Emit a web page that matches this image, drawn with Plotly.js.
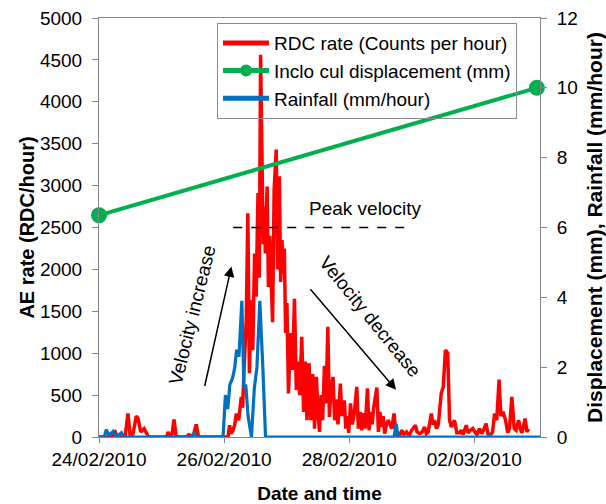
<!DOCTYPE html>
<html>
<head>
<meta charset="utf-8">
<script src="https://cdn.plot.ly/plotly-3.0.1.min.js"></script>
<style>html,body{margin:0;padding:0;background:#fff;}#chart{width:606px;height:504px;}</style>
</head>
<body>
<div id="chart"></div>
<script>
// Hours since 24/02/2010 00:00 and values
const rdcHours = [0,5,6,7,10,11.1,12,13,14.3,15,16,17.3,18,19,26,26.5,27.2,28,28.8,29.6,34,34.4,35,36.3,37.3,38.2,48,49.5,50.1,50.8,51.4,52.1,52.7,53.6,54.6,55.1,55.6,56.5,57.1,57.7,58.4,59.0,59.7,60.3,61.0,61.5,62.0,62.5,63.0,63.4,63.8,64.5,65.0,65.5,66.1,66.6,67.2,68.0,68.5,69.2,69.7,70.2,70.7,71.1,71.6,72.1,72.7,73.5,74.2,75.0,75.7,76.3,77.0,77.8,78.5,79.2,79.8,80.6,81.3,82.0,82.7,83.4,84.0,84.6,85.2,85.8,86.5,87.1,87.8,88.4,89.0,89.8,90.4,91.1,91.7,92.6,93.2,94.1,94.7,95.2,95.8,96.5,97.2,98.0,98.9,99.5,100.2,100.8,101.5,102.1,103.0,103.6,104.2,104.8,105.4,106.6,107.2,107.8,108.4,109.0,109.6,110.3,111.0,111.7,112.3,113.2,113.9,114.6,115.5,116.2,117,118,119,120,121.4,122,123,124,124.9,125.6,126.3,127.5,128.1,128.7,129.5,130.2,131.3,132.1,132.9,133.8,134.5,135.2,136.4,137.3,138.3,139,139.7,140.9,141.6,142.5,143.4,144.2,145,146,146.8,147.5,148.5,149.2,150,151,151.8,152.6,153.5,154.2,155.0,156.0,156.8,157.5,158.4,159.3,160.0,161.0,161.6,162.3,163.5,164.2,164.8];
const rdcRate = [0,0,80,0,0,280,0,30,250,220,60,100,60,0,0,60,0,30,210,0,0,40,0,30,150,0,0,0,140,40,80,150,280,200,478,350,760,1395,2670,760,1633,1036,2190,1673,2910,1900,4560,3230,2300,2750,2190,2990,1790,2400,1700,1370,2950,3430,2000,3110,1850,2350,1950,2250,1240,1600,520,1240,800,1650,560,900,500,1195,300,900,200,880,200,750,100,717,300,60,500,200,850,400,1314,240,550,717,200,450,150,638,250,438,100,250,50,400,150,300,598,100,300,80,283,100,580,80,300,150,350,590,60,300,120,250,40,150,200,140,100,280,60,0,30,80,30,60,20,80,140,60,40,60,120,40,60,280,150,200,100,150,518,600,1036,1000,200,120,200,50,50,80,30,140,50,80,100,60,30,100,40,80,160,40,20,60,280,200,686,250,300,200,50,100,478,100,80,200,100,50,220,60,100];

const incloHours = [0, 168];
const incloDisp = [6.35, 10.0];

const rainHours = [0,2,2.8,3.8,5.4,6.5,7.5,8.6,9.5,35.5,36.5,37.5,47.6,48.5,49.4,50.2,51.3,52.1,52.8,53.7,54.8,55.6,56.3,57.2,58.5,59.6,60.6,61.7,62.8,63.9,113.2,114.0,114.8,149.2,149.9,150.6,169.2];
const rainRate = [0,0,0.21,0.05,0.16,0.02,0.05,0.12,0,0,0.1,0,0,1.2,0.8,1.5,1.7,2.0,2.5,2.3,3.9,1.4,1.5,0.6,0,1.4,2.0,3.9,2.1,0,0,0.38,0,0,0.06,0,0];

const seriesNames = ['RDC rate (Counts per hour)', 'Inclo cul displacement (mm)', 'Rainfall (mm/hour)'];
const xTitle = 'Date and time';
const yTitle = 'AE rate (RDC/hour)';
const y2Title = 'Displacement (mm), Rainfall (mm/hour)';

const START = Date.UTC(2010, 1, 24);
function toDate(h) {
  return new Date(START + h * 3600000).toISOString().slice(0, 19).replace('T', ' ');
}

const axisGray = '#868686';
const FONT = '"Liberation Sans", Arial, sans-serif';

const traces = [
  {x: rdcHours.map(toDate), y: rdcRate, name: seriesNames[0], type: 'scatter', mode: 'lines',
   line: {color: '#ff0000', width: 3.5}, yaxis: 'y'},
  {x: incloHours.map(toDate), y: incloDisp, name: seriesNames[1], type: 'scatter', mode: 'lines+markers',
   line: {color: '#00b050', width: 4}, marker: {color: '#00b050', size: 16}, yaxis: 'y2', cliponaxis: false},
  {x: rainHours.map(toDate), y: rainRate, name: seriesNames[2], type: 'scatter', mode: 'lines',
   line: {color: '#0070c0', width: 3.2}, yaxis: 'y2'}
];

const layout = {
  width: 606, height: 504,
  margin: {l: 99, r: 66, t: 18, b: 67},
  paper_bgcolor: '#ffffff', plot_bgcolor: '#ffffff',
  font: {family: FONT, size: 19, color: '#000'},
  showlegend: true,
  legend: {x: 0.2676, y: 0.988, xanchor: 'left', yanchor: 'top', bgcolor: 'rgba(255,255,255,0)',
           bordercolor: '#8c8c8c', borderwidth: 1, itemsizing: 'constant', itemwidth: 46,
           font: {family: FONT, size: 19, color: '#000'}},
  xaxis: {type: 'date', range: [toDate(0), toDate(169.2)], tick0: toDate(0), dtick: 2 * 86400000,
          tickformat: '%d/%m/%Y', ticks: 'outside', ticklen: 5, tickcolor: axisGray,
          showline: true, linecolor: axisGray, mirror: true, showgrid: false, zeroline: false,
          tickfont: {family: FONT, size: 19, color: '#000'},
          title: {text: xTitle, font: {family: FONT, size: 19, weight: 'bold', color: '#000'}}},
  yaxis: {range: [0, 5000], dtick: 500, tickformat: 'd', ticks: 'outside', ticklen: 6, tickcolor: axisGray,
          showline: true, linecolor: axisGray, mirror: true, showgrid: false, zeroline: false,
          tickfont: {family: FONT, size: 19, color: '#000'}, ticklabelstandoff: 6,
          title: {text: yTitle, font: {family: FONT, size: 20, weight: 'bold', color: '#000'}}},
  yaxis2: {overlaying: 'y', side: 'right', range: [0, 12], dtick: 2, ticks: 'outside', ticklen: 6,
           tickcolor: axisGray, showline: true, linecolor: axisGray, showgrid: false, zeroline: false,
           tickfont: {family: FONT, size: 19, color: '#000'}, ticklabelstandoff: 6,
           title: {text: y2Title, font: {family: FONT, size: 21, weight: 'bold', color: '#000'}}},
  shapes: [
    {type: 'line', xref: 'x', yref: 'y', x0: toDate(51.5), x1: toDate(119.5), y0: 2500, y1: 2500,
     line: {color: '#000', width: 1.5, dash: 'dash'}}
  ],
  annotations: [
    {xref: 'x', yref: 'y', x: toDate(102.1), y: 2724, text: 'Peak velocity', showarrow: false,
     font: {family: FONT, size: 19, color: '#000'}},
    {xref: 'x', yref: 'y', x: toDate(35.9), y: 1459, text: 'Velocity increase', showarrow: false,
     textangle: -76, font: {family: FONT, size: 19, color: '#000'}},
    {xref: 'x', yref: 'y', x: toDate(104.1), y: 1441, text: 'Velocity decrease', showarrow: false,
     textangle: 51, font: {family: FONT, size: 19, color: '#000'}},
    {xref: 'x', yref: 'y', x: toDate(50.8), y: 2035, ax: -27, ay: 121, text: '', showarrow: true,
     arrowhead: 2, arrowsize: 1.4, arrowwidth: 1.5, arrowcolor: '#000'},
    {xref: 'x', yref: 'y', x: toDate(114.0), y: 564, ax: -87, ay: -102, text: '', showarrow: true,
     arrowhead: 2, arrowsize: 1.4, arrowwidth: 1.5, arrowcolor: '#000'}
  ]
};

Plotly.newPlot('chart', traces, layout, {displayModeBar: false, staticPlot: true});
</script>
</body>
</html>
